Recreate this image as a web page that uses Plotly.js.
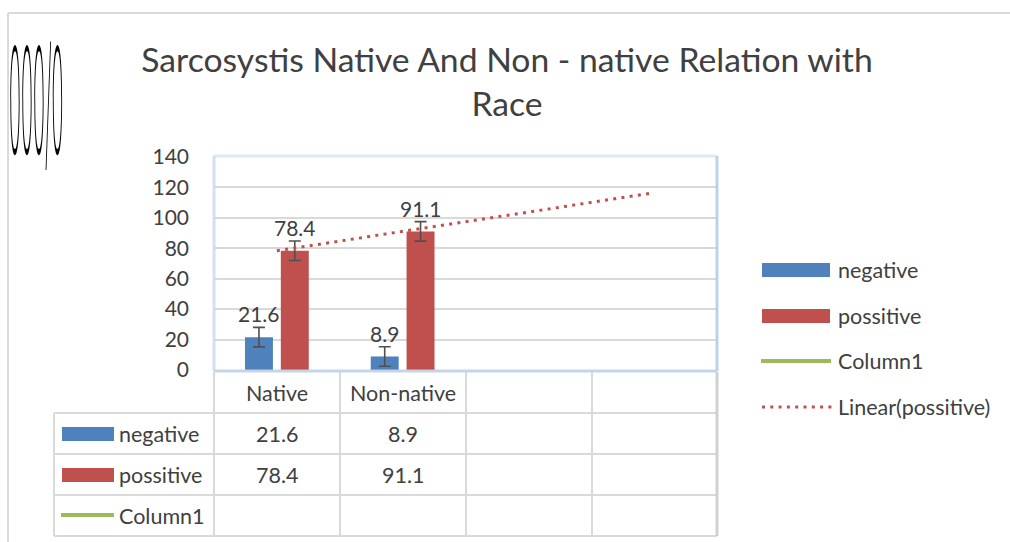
<!DOCTYPE html>
<html>
<head>
<meta charset="utf-8">
<script src="https://cdn.plot.ly/plotly-3.0.1.min.js"></script>
<style>
  html, body { margin: 0; padding: 0; background: #fff; }
  #wrap { position: relative; width: 1010px; height: 542px; }
  #chart { width: 1010px; height: 542px; }
  #glyph { position: absolute; left: 9px; top: 47px; font-family: Inter, "DejaVu Sans", sans-serif;
           font-weight: 200; font-size: 18px; line-height: 14px; color: #000; transform-origin: 0 0;
           transform: scale(1.1, 8.2); white-space: nowrap; pointer-events: none; }
</style>
</head>
<body>
<div id="wrap">
  <div id="chart"></div>
  <div id="glyph">000/0</div>
</div>
<script>
// ---- data ----
const categories = ["Native", "Non-native", "", ""];
const negative = [21.6, 8.9, null, null];
const possitive = [78.4, 91.1, null, null];
const errNegative = [6.4, 6.4, null, null];
const errPossitive = [6.4, 6.4, null, null];
const yTicks = [0, 20, 40, 60, 80, 100, 120, 140];
const seriesNames = ["negative", "possitive", "Column1", "Linear(possitive)"];
const titleText = "Sarcosystis Native And Non - native Relation with<br>Race";

// ---- style ----
const BLUE = "#4f81bd", RED = "#c0504d", GREEN = "#9bbb59", TXT = "#404040", GRID = "#d9d9d9";
const FONT = "Lato, 'Open Sans', sans-serif";
const TABLE_SIZE = 21.5;

// plot area in pixels
const L = 214, R = 717, T = 157, B = 370, W = 1010, H = 542;
const px = v => (v - L) / (R - L);
const py = v => (B - v) / (B - T);

const xIdx = categories.map((c, i) => i);

// linear trend on possitive
const pts = xIdx.map(i => [i, possitive[i]]).filter(p => p[1] !== null);
const n = pts.length;
const mx = pts.reduce((s, p) => s + p[0], 0) / n;
const my = pts.reduce((s, p) => s + p[1], 0) / n;
const slope = pts.reduce((s, p) => s + (p[0] - mx) * (p[1] - my), 0) /
              pts.reduce((s, p) => s + (p[0] - mx) * (p[0] - mx), 0);
const icpt = my - slope * mx;
const trendX = [0, categories.length - 1];
const trendY = trendX.map(x => icpt + slope * x);

const traces = [
  { type: "bar", name: seriesNames[0], x: xIdx, y: negative, marker: { color: BLUE },
    error_y: { type: "data", array: errNegative, visible: true, color: "#505050", thickness: 1.6, width: 6 },
    hoverinfo: "skip" },
  { type: "bar", name: seriesNames[1], x: xIdx, y: possitive, marker: { color: RED },
    error_y: { type: "data", array: errPossitive, visible: true, color: "#505050", thickness: 1.6, width: 6 },
    hoverinfo: "skip" },
  { type: "scatter", mode: "lines", name: seriesNames[2], x: [], y: [], line: { color: GREEN, width: 4 } },
  { type: "scatter", mode: "lines", name: seriesNames[3], x: trendX, y: trendY,
    line: { color: RED, width: 3, dash: "3px,5.3px" }, hoverinfo: "skip" }
];

const shapes = [];
const annotations = [];
const line = (x0, y0, x1, y1, color, width) => shapes.push({
  type: "line", xref: "paper", yref: "paper", x0: px(x0), y0: py(y0), x1: px(x1), y1: py(y1),
  line: { color: color, width: width }, layer: "above" });

// outer chart border
line(8, 13, 1012, 13, GRID, 2);
line(8, 13, 8, 545, GRID, 2);

// plot area soft border
line(L, T - 1, R, T - 1, "rgba(215,228,243,0.8)", 3);
line(L, T - 1, L, B + 1, "rgba(200,216,236,0.8)", 3);
line(R, T - 1, R, B + 1, "rgba(184,204,228,0.9)", 3);
line(L, B + 1, R, B + 1, "rgba(190,208,232,0.9)", 3);

// data table
const rowY = [413, 454, 495, 536];
rowY.forEach(y => line(54, y, R, y, GRID, 2));
line(54, 413, 54, 536, GRID, 2);
[214, 340, 466, 592].forEach(x => line(x, B + 2, x, 536, GRID, 2));
line(R, B + 2, R, 536, "#d0d0d0", 3);

const txt = (xref, x, y, text, size, xanchor) => annotations.push({
  xref: xref, yref: "paper", x: x, y: py(y), xanchor: xanchor, yanchor: "middle",
  text: text, showarrow: false, font: { family: FONT, size: size, color: TXT } });

// column header labels
categories.forEach((c, i) => { if (c) txt("x", i, 393, c, TABLE_SIZE, "center"); });
// row labels and values
const rowCenters = [434, 475, 516];
const rowData = [negative, possitive, [null, null, null, null]];
const keyColors = [BLUE, RED, GREEN];
[0, 1, 2].forEach(r => {
  const yc = rowCenters[r];
  if (r < 2) {
    shapes.push({ type: "rect", xref: "paper", yref: "paper", x0: px(62), x1: px(114),
      y0: py(yc + 7), y1: py(yc - 7), fillcolor: keyColors[r], line: { width: 0 } });
  } else {
    shapes.push({ type: "line", xref: "paper", yref: "paper", x0: px(61), x1: px(114),
      y0: py(yc - 1), y1: py(yc - 1), line: { color: GREEN, width: 4 } });
  }
  txt("paper", px(117), yc, seriesNames[r], TABLE_SIZE, "left");
  rowData[r].forEach((v, i) => { if (v !== null) txt("x", i, yc, String(v), TABLE_SIZE, "center"); });
});

// data labels above error bars
[[negative, errNegative], [possitive, errPossitive]].forEach(([vals, errs], s) => {
  vals.forEach((v, i) => {
    if (v === null) return;
    annotations.push({ xref: "x", yref: "y", x: i + (s === 0 ? -1 : 1) * 0.143, y: v + errs[i],
      xanchor: "center", yanchor: "bottom", yshift: -1, text: String(v), showarrow: false,
      font: { family: FONT, size: 21, color: TXT } });
  });
});

// right legend
const legY = [270, 316, 361, 407];
[0, 1].forEach(k => {
  shapes.push({ type: "rect", xref: "paper", yref: "paper", x0: px(762), x1: px(830),
    y0: py(legY[k] + 7), y1: py(legY[k] - 7), fillcolor: keyColors[k], line: { width: 0 } });
});
shapes.push({ type: "line", xref: "paper", yref: "paper", x0: px(761), x1: px(831),
  y0: py(legY[2]), y1: py(legY[2]), line: { color: GREEN, width: 4 } });
shapes.push({ type: "line", xref: "paper", yref: "paper", x0: px(762), x1: px(832),
  y0: py(legY[3]), y1: py(legY[3]), line: { color: RED, width: 3, dash: "3px,5.3px" } });
seriesNames.forEach((nm, k) => txt("paper", px(836), legY[k], nm, TABLE_SIZE, "left"));

const layout = {
  width: W, height: H,
  margin: { l: L, r: W - R, t: T, b: H - B, pad: 0 },
  paper_bgcolor: "#fff", plot_bgcolor: "#fff",
  showlegend: false,
  barmode: "group", bargap: 0.43, bargroupgap: 0.22,
  title: { text: titleText, x: 507 / W, xanchor: "center", xref: "container",
    y: 1 - 72 / H, yanchor: "top", yref: "container",
    font: { family: FONT, size: 33.7, color: TXT } },
  xaxis: { range: [-0.5, categories.length - 0.5], showticklabels: false, showgrid: false,
    zeroline: false, showline: false, ticks: "", fixedrange: true },
  yaxis: { range: [0, 140], tickvals: yTicks, ticktext: yTicks.map(String), showgrid: true,
    gridcolor: GRID, gridwidth: 2, zeroline: false, showline: false, ticks: "",
    ticklabelstandoff: 24, tickfont: { family: FONT, size: 21, color: TXT }, fixedrange: true },
  shapes: shapes,
  annotations: annotations
};

Plotly.newPlot("chart", traces, layout, { displayModeBar: false, staticPlot: true });
</script>
</body>
</html>
